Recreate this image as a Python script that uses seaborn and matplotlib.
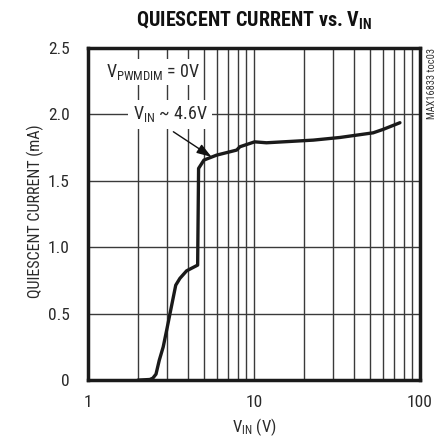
import matplotlib
matplotlib.use("Agg")
import matplotlib.pyplot as plt
from matplotlib import font_manager
import seaborn as sns
import pandas as pd

# ---- data ----
vin = [2.0, 2.36, 2.46, 2.57, 2.69, 2.84, 2.98, 3.12, 3.38, 3.58, 3.93, 4.58,
       4.64, 5.0, 5.96, 7.87, 8.23, 10.1, 11.9, 16.5, 22.8, 33.0, 52.3, 60.1, 75.8]
iq = [0.0, 0.005, 0.015, 0.045, 0.15, 0.25, 0.376, 0.50, 0.715, 0.766, 0.823, 0.866,
      1.594, 1.657, 1.694, 1.732, 1.757, 1.794, 1.787, 1.797, 1.807, 1.827, 1.862, 1.888, 1.938]
x_ticks = [1, 10, 100]
x_tick_labels = ["1", "10", "100"]
y_ticks = [0, 0.5, 1.0, 1.5, 2.0, 2.5]
y_tick_labels = ["0", "0.5", "1.0", "1.5", "2.0", "2.5"]

names = {f.name for f in font_manager.fontManager.ttflist}
font = "DejaVu Sans"
for cand in ["Liberation Sans Narrow", "Roboto Condensed", "Liberation Sans", "Roboto"]:
    if cand in names:
        font = cand
        break

sns.set_style("white")
plt.rcParams["font.family"] = [font, "DejaVu Sans"]
plt.rcParams["mathtext.fontset"] = "custom"
plt.rcParams["mathtext.rm"] = font
plt.rcParams["mathtext.bf"] = font + ":bold"
plt.rcParams["mathtext.it"] = font

df = pd.DataFrame({"VIN": vin, "IQ": iq})

fig = plt.figure(figsize=(4.42, 4.41), dpi=100)
ax = fig.add_axes([0.199, 0.138, 0.751, 0.753])

sns.lineplot(data=df, x="VIN", y="IQ", ax=ax, color="#1a1a1a", linewidth=2.4,
             estimator=None, sort=False, zorder=5)

ax.set_xscale("log")
ax.set_xlim(1, 100)
ax.set_ylim(0, 2.5)
ax.set_xticks(x_ticks)
ax.set_xticklabels(x_tick_labels)
ax.set_xticks([m * d for d in (1, 10) for m in range(2, 10)], minor=True)
ax.xaxis.set_minor_formatter(matplotlib.ticker.NullFormatter())
ax.set_yticks(y_ticks)
ax.set_yticklabels(y_tick_labels)
ax.tick_params(which="both", length=0, labelsize=12.5, colors="#2a2a2a")
ax.tick_params(axis="y", pad=13)
ax.tick_params(axis="x", pad=11)
ax.grid(True, which="both", axis="x", color="#3a3a3a", linewidth=1.0)
ax.grid(True, which="major", axis="y", color="#3a3a3a", linewidth=1.0)
ax.set_axisbelow(True)
for s in ax.spines.values():
    s.set_visible(True)
    s.set_color("#1a1a1a")
    s.set_linewidth(2.5)

ax.set_xlabel(r"V$_{\mathrm{IN}}$ (V)", fontsize=12, color="#2a2a2a", labelpad=4)
ax.set_ylabel("")
fig.text(0.08, 0.52, "QUIESCENT CURRENT (mA)", rotation=90, ha="center", va="center",
         fontsize=11.5, color="#2a2a2a")

fig.text(0.575, 0.952, r"QUIESCENT CURRENT vs. V$_{\mathbf{IN}}$", ha="center", va="center",
         fontsize=14.5, fontweight="bold", color="#111111")

ax.text(2.47, 2.32, r"V$_{\mathrm{PWMDIM}}$ = 0V", ha="center", va="center",
        fontsize=13, color="#2a2a2a",
        bbox=dict(facecolor="white", edgecolor="none", pad=2), zorder=4)
ax.text(3.12, 2.0, r"V$_{\mathrm{IN}}$ ~ 4.6V", ha="center", va="center",
        fontsize=13, color="#2a2a2a",
        bbox=dict(facecolor="white", edgecolor="none", pad=3), zorder=4)
ax.annotate("", xy=(5.56, 1.68), xytext=(3.27, 1.87),
            arrowprops=dict(arrowstyle="-|>,head_length=0.9,head_width=0.3",
                            color="#111111", lw=1.0, shrinkA=0, shrinkB=0), zorder=6)

fig.text(0.977, 0.81, "MAX16833 toc03", rotation=90, ha="center", va="center",
         fontsize=7.5, color="#333333")

fig.savefig("out.png", dpi=100)
